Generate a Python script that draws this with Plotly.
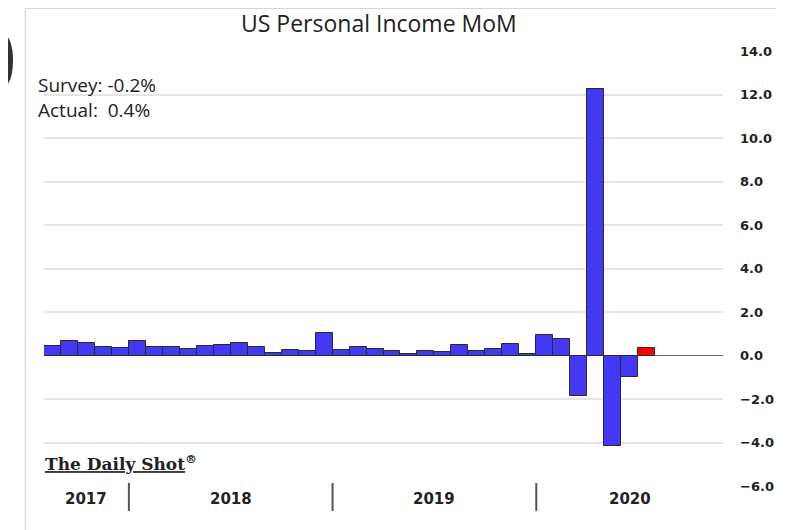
import plotly.graph_objects as go

# monthly % change, Aug 2017 -> Jul 2020 (last value = latest release)
months = [
    "2017-08", "2017-09", "2017-10", "2017-11", "2017-12",
    "2018-01", "2018-02", "2018-03", "2018-04", "2018-05", "2018-06",
    "2018-07", "2018-08", "2018-09", "2018-10", "2018-11", "2018-12",
    "2019-01", "2019-02", "2019-03", "2019-04", "2019-05", "2019-06",
    "2019-07", "2019-08", "2019-09", "2019-10", "2019-11", "2019-12",
    "2020-01", "2020-02", "2020-03", "2020-04", "2020-05", "2020-06",
    "2020-07",
]
income_mom = [
    0.45, 0.68, 0.57, 0.40, 0.35,
    0.68, 0.40, 0.40, 0.32, 0.45, 0.49, 0.58, 0.40, 0.11, 0.26, 0.20, 1.04,
    0.25, 0.37, 0.32, 0.20, 0.09, 0.23, 0.14, 0.48, 0.20, 0.31, 0.54, 0.09,
    0.92, 0.74, -1.86, 12.24, -4.16, -1.00, 0.35,
]
years = ["2017", "2018", "2019", "2020"]
year_centers = [2.0, 10.5, 22.5, 34.0]      # slot index of label centre
year_breaks = [4.5, 16.5, 28.5]
y_ticks = [-6, -4, -2, 0, 2, 4, 6, 8, 10, 12, 14]

# the page body has an 8px margin, so the figure is 8px smaller than the window
OFF = 8
W, H = 786 - OFF, 530 - OFF
ML, MR, MT, MB = 36, 54, 43, 44
PW, PH = W - ML - MR, H - MT - MB


# helpers: window pixel -> paper coords
def px_x(p):
    return (p - OFF - ML) / PW


def px_y(p):
    return (H - MB - (p - OFF)) / PH


colors = ["#4238F6"] * (len(income_mom) - 1) + ["#FF0000"]

fig = go.Figure(go.Bar(
    x=months, y=income_mom,
    marker_color=colors,
    marker_line_color="#2a2a2a", marker_line_width=1,
))

fig.update_layout(
    width=W, height=H,
    margin=dict(l=ML, r=MR, t=MT, b=MB),
    paper_bgcolor="white", plot_bgcolor="white",
    bargap=0, showlegend=False,
    font=dict(family="DejaVu Sans", color="#222"),
)
fig.update_xaxes(type="category", range=[-0.5, 39.5], showticklabels=False,
                 showgrid=False, zeroline=False, showline=False, ticks="")
fig.update_yaxes(side="right", range=[-6, 14], tickvals=y_ticks, tickformat=".1f",
                 tickfont=dict(family="DejaVu Sans", size=13, color="#222", weight="bold"),
                 showgrid=True, gridcolor="#e4e4e4", gridwidth=1.5,
                 zeroline=True, zerolinecolor="#666", zerolinewidth=1,
                 showline=False, ticks="", ticklabelstandoff=16)

# title
fig.add_annotation(text="US Personal Income MoM", xref="paper", yref="paper",
                   x=px_x(383), y=px_y(23), xanchor="center", yanchor="middle",
                   showarrow=False, font=dict(family="Open Sans", size=23, color="#222"))

# survey / actual box
fig.add_annotation(text="Survey: -0.2%<br>Actual:  0.4%", xref="paper", yref="paper",
                   x=px_x(36), y=px_y(70), xanchor="left", yanchor="top", align="left",
                   showarrow=False, font=dict(family="Open Sans", size=19, color="#222"))

# logo
fig.add_annotation(text="<u>The Daily Shot</u><sup>®</sup>", xref="paper", yref="paper",
                   x=px_x(43), y=px_y(450), xanchor="left", yanchor="top",
                   showarrow=False,
                   font=dict(family="DejaVu Serif", size=17, color="#222", weight="bold"))

# year labels and separators under the plot
for yr, xc in zip(years, year_centers):
    fig.add_annotation(text=f"<b>{yr}</b>", xref="x", yref="paper", x=xc, y=px_y(499),
                       xanchor="center", yanchor="middle", showarrow=False,
                       font=dict(family="DejaVu Sans", size=15, color="#222"))
for xb in year_breaks:
    fig.add_shape(type="line", xref="x", yref="paper", x0=xb, x1=xb,
                  y0=px_y(483), y1=px_y(511), line=dict(color="#555", width=2))

# screenshot border and cropped glyph on the left
fig.add_shape(type="line", xref="paper", yref="paper", x0=px_x(25), x1=px_x(786),
              y0=px_y(8.5), y1=px_y(8.5), line=dict(color="#d6d6d6", width=1))
fig.add_shape(type="line", xref="paper", yref="paper", x0=px_x(25), x1=px_x(25),
              y0=px_y(8.5), y1=px_y(530), line=dict(color="#cfcfcf", width=1))
fig.add_annotation(text="0", xref="paper", yref="paper", x=px_x(18), y=px_y(57),
                   xanchor="right", yanchor="middle", showarrow=False,
                   font=dict(family="Open Sans", size=86, color="#333", weight="bold"))

fig.write_html("out.html")
